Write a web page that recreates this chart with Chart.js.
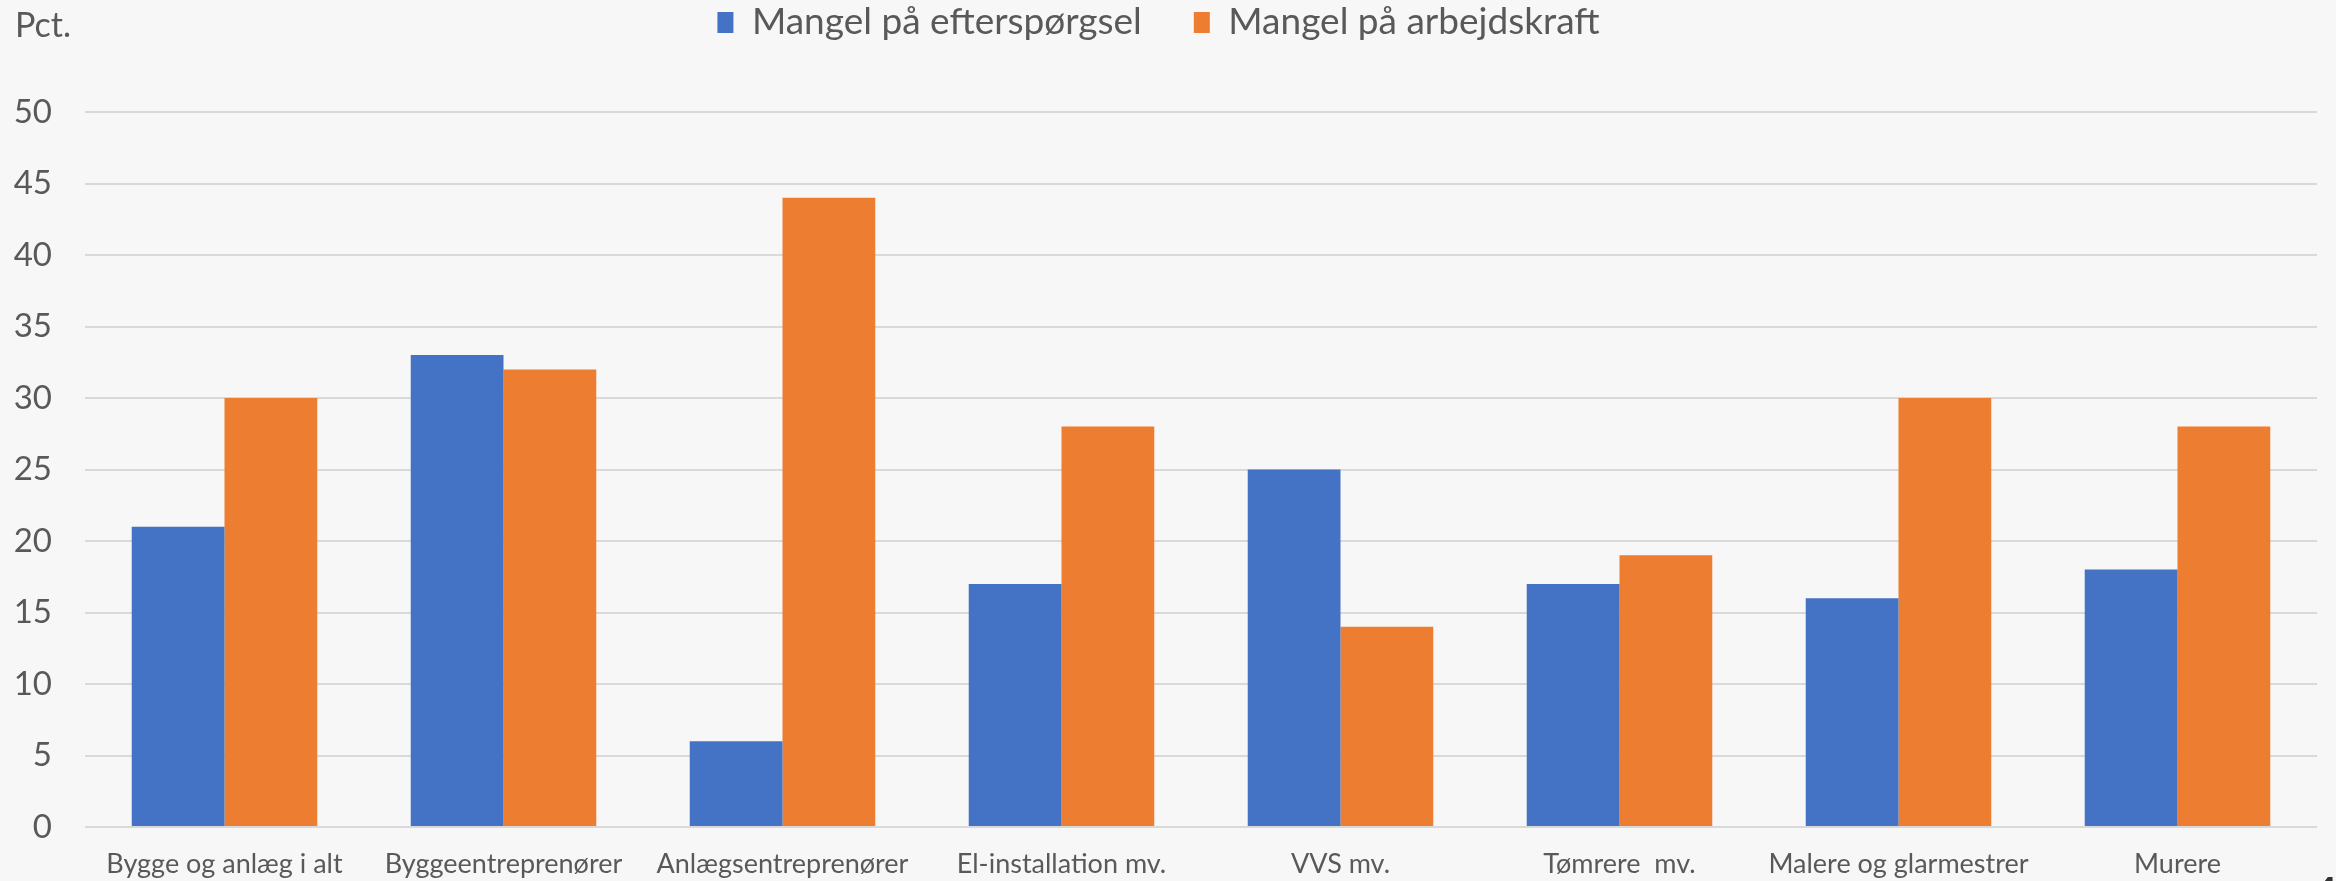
<!DOCTYPE html>
<html>
<head>
<meta charset="utf-8">
<script src="https://cdn.jsdelivr.net/npm/chart.js@4"></script>
<style>
  html, body { margin: 0; padding: 0; background: #f7f7f7; }
  #wrap { width: 2336px; height: 881px; position: relative; }
</style>
</head>
<body>
<div id="wrap"><canvas id="chart"></canvas></div>
<script>
// Categories and values
const categories = [
    'Bygge og anlæg i alt', 'Byggeentreprenører', 'Anlægsentreprenører', 'El-installation mv.',
    'VVS mv.', 'Tømrere  mv.', 'Malere og glarmestrer', 'Murere'
];
const seriesNames = ['Mangel på efterspørgsel', 'Mangel på arbejdskraft'];
const demandShortage = [21, 33, 6, 17, 25, 17, 16, 18];
const laborShortage = [30, 32, 44, 28, 14, 19, 30, 28];
const yTicks = [0, 5, 10, 15, 20, 25, 30, 35, 40, 45, 50];

const textColor = '#595959';
const fontFamily = 'Lato, "Open Sans", sans-serif';
const legendPad = 52;

// Legend box is kept tall so the plot starts where the reference does
const legendHeight = {
    id: 'legendHeight',
    beforeLayout(chart) {
        const legend = chart.legend;
        if (!legend || legend._patched) return;
        const fit = legend.fit;
        legend.fit = function() {
            fit.call(this);
            this.height = 112 + legendPad - 4;
        };
        legend._patched = true;
    }
};

// Unit label top left and the cut-off glyph in the corner
const extraText = {
    id: 'extraText',
    afterDraw(chart) {
        const ctx = chart.ctx;
        ctx.save();
        ctx.fillStyle = textColor;
        ctx.font = '34px ' + fontFamily;
        ctx.textBaseline = 'alphabetic';
        ctx.textAlign = 'left';
        ctx.fillText('Pct.', 15, 37);
        ctx.fillStyle = '#333333';
        ctx.font = 'bold 40px ' + fontFamily;
        ctx.fillText('4', 2314, 906);
        ctx.restore();
    }
};

new Chart(document.getElementById('chart'), {
    type: 'bar',
    data: {
        labels: categories,
        datasets: [{
            label: seriesNames[0],
            data: demandShortage,
            backgroundColor: '#4472C4'
        }, {
            label: seriesNames[1],
            data: laborShortage,
            backgroundColor: '#ED7D31'
        }]
    },
    options: {
        responsive: true,
        maintainAspectRatio: false,
        animation: false,
        categoryPercentage: 0.665,
        barPercentage: 1.0,
        layout: { padding: { left: 0, right: 19, top: 4 - legendPad, bottom: 0 } },
        scales: {
            x: {
                grid: { display: false },
                border: { display: false },
                ticks: {
                    color: textColor,
                    font: { family: fontFamily, size: 27 },
                    padding: 13,
                    maxRotation: 0,
                    autoSkip: false
                },
                afterFit(scale) { scale.height = 54; }
            },
            y: {
                min: 0,
                max: 50,
                afterBuildTicks(scale) { scale.ticks = yTicks.map(v => ({ value: v })); },
                grid: { color: '#d9d9d9', lineWidth: 2, drawTicks: false },
                border: { display: false },
                ticks: {
                    color: textColor,
                    font: { family: fontFamily, size: 33 },
                    padding: 33
                },
                afterFit(scale) { scale.width = 85; }
            }
        },
        plugins: {
            legend: {
                position: 'top',
                labels: {
                    color: textColor,
                    font: { family: fontFamily, size: 37 },
                    boxWidth: 16,
                    boxHeight: 21,
                    padding: legendPad
                }
            },
            tooltip: { enabled: false }
        }
    },
    plugins: [legendHeight, extraText]
});
</script>
</body>
</html>
